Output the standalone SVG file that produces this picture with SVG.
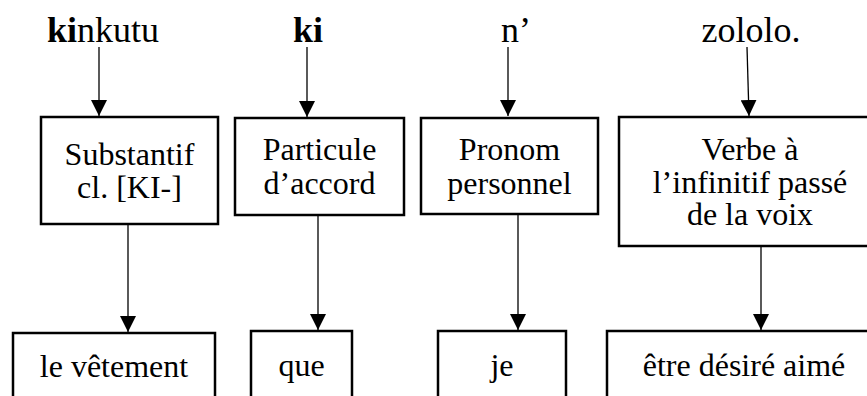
<svg xmlns="http://www.w3.org/2000/svg" width="867" height="396" viewBox="0 0 867 396" font-family="'Liberation Serif', 'Times New Roman', Times, 'DejaVu Serif', serif">
<style>
text{font-family:'Liberation Serif','Times New Roman',Times,'DejaVu Serif',serif;fill:#000;text-anchor:middle}
.w{font-size:36px}
.t{font-size:32px}
.b{font-weight:bold}
rect{fill:#fff;stroke:#000;stroke-width:2.5}
.c line{stroke:#000;stroke-width:1.3;marker-end:url(#ah)}
</style>
<defs>
<marker id="ah" markerUnits="userSpaceOnUse" markerWidth="16" markerHeight="16" refX="16" refY="8" orient="auto" viewBox="0 0 16 16">
<path d="M0,0 L16,8 L0,16 Z" fill="#000"/>
</marker>
</defs>
<rect x="0" y="0" width="867" height="396" style="stroke:none;fill:#fff"/>
<g id="w1"><text class="w" x="103" y="42"><tspan class="b">ki</tspan>nkutu</text></g>
<g id="w2"><text class="w b" x="308" y="42">ki</text></g>
<g id="w3"><text class="w" x="516" y="42">n’</text></g>
<g id="w4"><text class="w" x="751" y="42">zololo.</text></g>
<g id="n1"><rect x="41" y="117" width="177" height="107"/><text class="t" x="129.5" y="165">Substantif</text><text class="t" x="129.5" y="198">cl. [KI-]</text></g>
<g id="n2"><rect x="235" y="118" width="169" height="97"/><text class="t" x="319.5" y="160">Particule</text><text class="t" x="319.5" y="194">d’accord</text></g>
<g id="n3"><rect x="421" y="118" width="177" height="96"/><text class="t" x="509.5" y="160">Pronom</text><text class="t" x="509.5" y="194">personnel</text></g>
<g id="n4"><rect x="619" y="117" width="262" height="129"/><text class="t" x="750" y="160">Verbe à</text><text class="t" x="750" y="193">l’infinitif passé</text><text class="t" x="750" y="225">de la voix</text></g>
<g id="m1"><rect x="13" y="333" width="202" height="80"/><text class="t" x="114" y="377">le vêtement</text></g>
<g id="m2"><rect x="251" y="331" width="101" height="80"/><text class="t" x="301.5" y="376">que</text></g>
<g id="m3"><rect x="438" y="331" width="128" height="80"/><text class="t" x="502" y="376">je</text></g>
<g id="m4"><rect x="607" y="331" width="274" height="80"/><text class="t" x="744" y="376">être désiré aimé</text></g>
<g class="c" id="connectors">
<line x1="99" y1="47" x2="99" y2="116"/>
<line x1="307" y1="47" x2="307" y2="117"/>
<line x1="508" y1="47" x2="508" y2="116"/>
<line x1="747" y1="47" x2="749" y2="116"/>
<line x1="128" y1="225" x2="128" y2="332"/>
<line x1="318" y1="216" x2="318" y2="330"/>
<line x1="518" y1="215" x2="518" y2="330"/>
<line x1="761" y1="247" x2="761" y2="330"/>
</g>
</svg>
